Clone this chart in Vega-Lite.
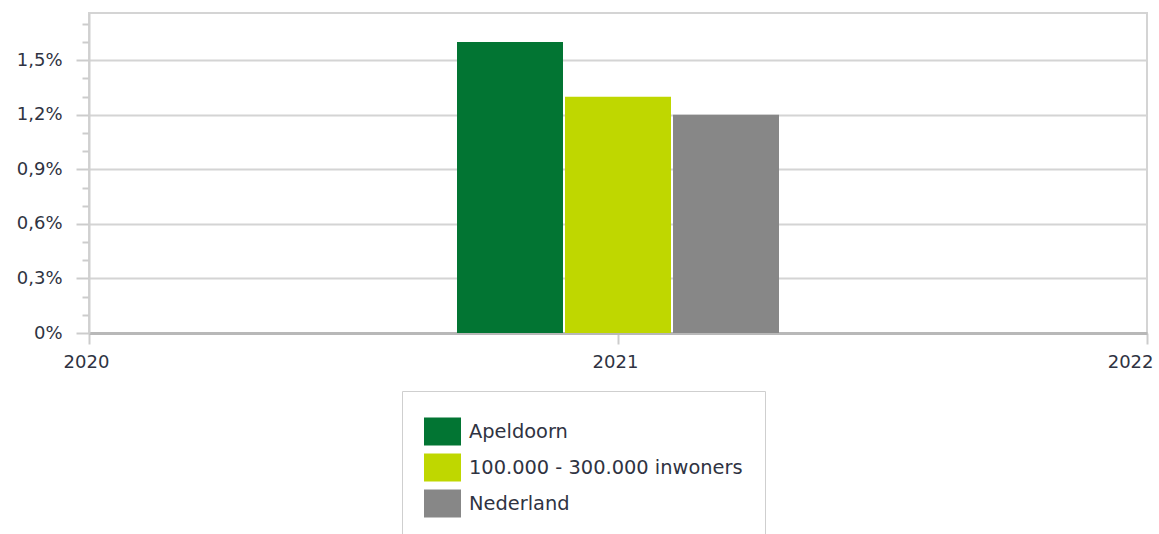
{
  "$schema": "https://vega.github.io/schema/vega-lite/v6.json",
  "autosize": "none",
  "width": 1058,
  "height": 320,
  "padding": {"left": 89, "top": 13, "right": 12, "bottom": 201},
  "background": "white",
  "data": {
    "values": [
      {"jaar": 2021, "reeks": "Apeldoorn", "waarde": 0.016},
      {"jaar": 2021, "reeks": "100.000 - 300.000 inwoners", "waarde": 0.013},
      {"jaar": 2021, "reeks": "Nederland", "waarde": 0.012}
    ]
  },
  "encoding": {
    "x": {
      "field": "jaar", "type": "quantitative",
      "scale": {"domain": [2020, 2022], "nice": false, "zero": false, "padding": 0},
      "axis": {
        "title": null, "values": [2020, 2021, 2022], "tickCount": 10, "tickMinStep": 0.1, "format": "d",
        "grid": false, "domainColor": "#b8b8b8", "domainWidth": 3,
        "tickColor": "#cccccc", "tickWidth": 2, "tickSize": 11,
        "labelOverlap": false, "labelBound": false, "labelFlush": false,
        "labelFont": "DejaVu Sans", "labelFontSize": 18, "labelColor": "#2f3342",
        "labelPadding": 9,
        "labelAlign": {"condition": {"test": "datum.value == 2022", "value": "right"}, "value": "center"},
        "labelOffset": {"condition": {"test": "datum.value == 2022", "value": 6}, "value": -3}
      }
    },
    "y": {
      "field": "waarde", "type": "quantitative",
      "scale": {"domain": [0, 0.0176], "nice": false},
      "axis": {
        "title": null,
        "values": [0, 0.001, 0.002, 0.003, 0.004, 0.005, 0.006, 0.007, 0.008, 0.009, 0.01, 0.011, 0.012, 0.013, 0.014, 0.015, 0.016, 0.017],
        "tickCount": 30,
        "format": ".1~%",
        "labelExpr": "abs(datum.value*1000 - round(datum.value*1000/3)*3) < 0.01 ? datum.label : ''",
        "domainColor": "#d0d0d0", "domainWidth": 2,
        "tickColor": "#cccccc", "tickWidth": 2,
        "tickSize": {"condition": {"test": "abs(datum.value*1000 - round(datum.value*1000/3)*3) < 0.01", "value": 13}, "value": 7},
        "gridColor": "#d4d4d4", "gridWidth": 2,
        "gridOpacity": {"condition": {"test": "abs(datum.value*1000 - round(datum.value*1000/3)*3) < 0.01", "value": 1}, "value": 0},
        "labelFont": "DejaVu Sans", "labelFontSize": 18, "labelColor": "#2f3342",
        "labelPadding": 14
      }
    },
    "color": {
      "field": "reeks", "type": "nominal",
      "scale": {
        "domain": ["Apeldoorn", "100.000 - 300.000 inwoners", "Nederland"],
        "range": ["#027533", "#bfd700", "#878787"]
      },
      "legend": {
        "title": null, "orient": "none", "legendX": 313, "legendY": 378,
        "direction": "vertical",
        "strokeColor": "#cfcfcf", "padding": 22, "fillColor": "white",
        "symbolType": "M-1,-0.757H1V0.757H-1Z", "symbolSize": 1369,
        "symbolStrokeWidth": 0, "symbolOpacity": 1,
        "labelFont": "DejaVu Sans", "labelFontSize": 19.4, "labelColor": "#2f3342",
        "labelOffset": 8, "rowPadding": 3, "labelLimit": 400
      }
    }
  },
  "layer": [
    {"transform": [{"filter": "datum.reeks == 'Apeldoorn'"}], "mark": {"type": "bar", "width": 106, "xOffset": -108}},
    {"transform": [{"filter": "datum.reeks == '100.000 - 300.000 inwoners'"}], "mark": {"type": "bar", "width": 106, "xOffset": 0}},
    {"transform": [{"filter": "datum.reeks == 'Nederland'"}], "mark": {"type": "bar", "width": 106, "xOffset": 108}}
  ],
  "config": {
    "locale": {"number": {"decimal": ",", "thousands": ".", "grouping": [3], "currency": ["€ ", ""]}},
    "view": {"stroke": "#d4d4d4", "strokeWidth": 2}
  }
}
